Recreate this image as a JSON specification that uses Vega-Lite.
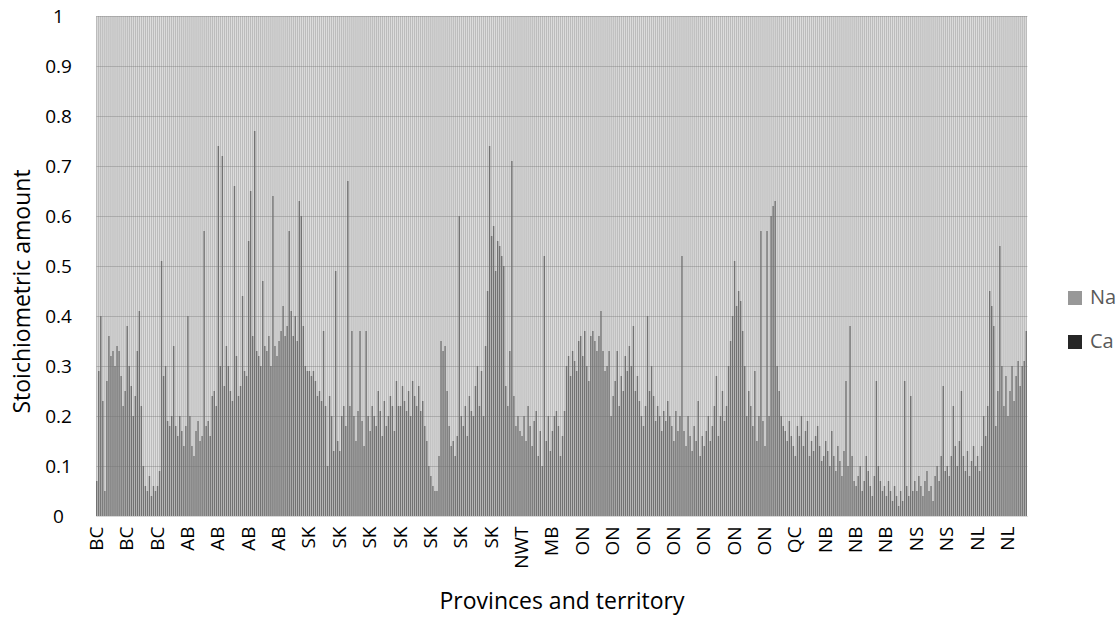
{
"$schema": "https://vega.github.io/schema/vega-lite/v6.json",
"width": 931, "height": 500,
"autosize": "none",
"padding": {"left": 96, "top": 16, "right": 92, "bottom": 104},
"background": "white",
"config": {"view": {"stroke": null}, "font": "Open Sans"},
"data": {"values": [
{"i":1,"p":"BC","Ca":0.07,"Na":0.93},{"i":2,"p":"BC","Ca":0.29,"Na":0.71},{"i":3,"p":"BC","Ca":0.40,"Na":0.60},{"i":4,"p":"BC","Ca":0.23,"Na":0.77},{"i":5,"p":"BC","Ca":0.05,"Na":0.95},{"i":6,"p":"BC","Ca":0.27,"Na":0.73},{"i":7,"p":"BC","Ca":0.36,"Na":0.64},{"i":8,"p":"BC","Ca":0.32,"Na":0.68},{"i":9,"p":"BC","Ca":0.33,"Na":0.67},{"i":10,"p":"BC","Ca":0.30,"Na":0.70},{"i":11,"p":"BC","Ca":0.34,"Na":0.66},{"i":12,"p":"BC","Ca":0.33,"Na":0.67},{"i":13,"p":"BC","Ca":0.28,"Na":0.72},{"i":14,"p":"BC","Ca":0.22,"Na":0.78},{"i":15,"p":"BC","Ca":0.25,"Na":0.75},
{"i":16,"p":"BC","Ca":0.38,"Na":0.62},{"i":17,"p":"BC","Ca":0.30,"Na":0.70},{"i":18,"p":"BC","Ca":0.26,"Na":0.74},{"i":19,"p":"BC","Ca":0.20,"Na":0.80},{"i":20,"p":"BC","Ca":0.24,"Na":0.76},{"i":21,"p":"BC","Ca":0.33,"Na":0.67},{"i":22,"p":"BC","Ca":0.41,"Na":0.59},{"i":23,"p":"BC","Ca":0.22,"Na":0.78},{"i":24,"p":"BC","Ca":0.10,"Na":0.90},{"i":25,"p":"BC","Ca":0.06,"Na":0.94},{"i":26,"p":"BC","Ca":0.05,"Na":0.95},{"i":27,"p":"BC","Ca":0.08,"Na":0.92},{"i":28,"p":"BC","Ca":0.04,"Na":0.96},{"i":29,"p":"BC","Ca":0.06,"Na":0.94},{"i":30,"p":"BC","Ca":0.05,"Na":0.95},
{"i":31,"p":"BC","Ca":0.06,"Na":0.94},{"i":32,"p":"BC","Ca":0.09,"Na":0.91},{"i":33,"p":"BC","Ca":0.51,"Na":0.49},{"i":34,"p":"BC","Ca":0.28,"Na":0.72},{"i":35,"p":"BC","Ca":0.30,"Na":0.70},{"i":36,"p":"BC","Ca":0.19,"Na":0.81},{"i":37,"p":"BC","Ca":0.18,"Na":0.82},{"i":38,"p":"BC","Ca":0.20,"Na":0.80},{"i":39,"p":"BC","Ca":0.34,"Na":0.66},{"i":40,"p":"BC","Ca":0.18,"Na":0.82},{"i":41,"p":"BC","Ca":0.16,"Na":0.84},{"i":42,"p":"BC","Ca":0.20,"Na":0.80},{"i":43,"p":"BC","Ca":0.17,"Na":0.83},{"i":44,"p":"BC","Ca":0.14,"Na":0.86},{"i":45,"p":"BC","Ca":0.18,"Na":0.82},
{"i":46,"p":"AB","Ca":0.40,"Na":0.60},{"i":47,"p":"AB","Ca":0.20,"Na":0.80},{"i":48,"p":"AB","Ca":0.14,"Na":0.86},{"i":49,"p":"AB","Ca":0.12,"Na":0.88},{"i":50,"p":"AB","Ca":0.17,"Na":0.83},{"i":51,"p":"AB","Ca":0.19,"Na":0.81},{"i":52,"p":"AB","Ca":0.15,"Na":0.85},{"i":53,"p":"AB","Ca":0.16,"Na":0.84},{"i":54,"p":"AB","Ca":0.57,"Na":0.43},{"i":55,"p":"AB","Ca":0.18,"Na":0.82},{"i":56,"p":"AB","Ca":0.19,"Na":0.81},{"i":57,"p":"AB","Ca":0.16,"Na":0.84},{"i":58,"p":"AB","Ca":0.24,"Na":0.76},{"i":59,"p":"AB","Ca":0.25,"Na":0.75},{"i":60,"p":"AB","Ca":0.22,"Na":0.78},
{"i":61,"p":"AB","Ca":0.74,"Na":0.26},{"i":62,"p":"AB","Ca":0.30,"Na":0.70},{"i":63,"p":"AB","Ca":0.72,"Na":0.28},{"i":64,"p":"AB","Ca":0.26,"Na":0.74},{"i":65,"p":"AB","Ca":0.34,"Na":0.66},{"i":66,"p":"AB","Ca":0.30,"Na":0.70},{"i":67,"p":"AB","Ca":0.25,"Na":0.75},{"i":68,"p":"AB","Ca":0.23,"Na":0.77},{"i":69,"p":"AB","Ca":0.66,"Na":0.34},{"i":70,"p":"AB","Ca":0.32,"Na":0.68},{"i":71,"p":"AB","Ca":0.24,"Na":0.76},{"i":72,"p":"AB","Ca":0.26,"Na":0.74},{"i":73,"p":"AB","Ca":0.44,"Na":0.56},{"i":74,"p":"AB","Ca":0.29,"Na":0.71},{"i":75,"p":"AB","Ca":0.28,"Na":0.72},
{"i":76,"p":"AB","Ca":0.55,"Na":0.45},{"i":77,"p":"AB","Ca":0.65,"Na":0.35},{"i":78,"p":"AB","Ca":0.36,"Na":0.64},{"i":79,"p":"AB","Ca":0.77,"Na":0.23},{"i":80,"p":"AB","Ca":0.33,"Na":0.67},{"i":81,"p":"AB","Ca":0.32,"Na":0.68},{"i":82,"p":"AB","Ca":0.30,"Na":0.70},{"i":83,"p":"AB","Ca":0.47,"Na":0.53},{"i":84,"p":"AB","Ca":0.34,"Na":0.66},{"i":85,"p":"AB","Ca":0.33,"Na":0.67},{"i":86,"p":"AB","Ca":0.36,"Na":0.64},{"i":87,"p":"AB","Ca":0.30,"Na":0.70},{"i":88,"p":"AB","Ca":0.64,"Na":0.36},{"i":89,"p":"AB","Ca":0.34,"Na":0.66},{"i":90,"p":"AB","Ca":0.32,"Na":0.68},
{"i":91,"p":"AB","Ca":0.35,"Na":0.65},{"i":92,"p":"AB","Ca":0.37,"Na":0.63},{"i":93,"p":"AB","Ca":0.42,"Na":0.58},{"i":94,"p":"AB","Ca":0.36,"Na":0.64},{"i":95,"p":"AB","Ca":0.38,"Na":0.62},{"i":96,"p":"AB","Ca":0.57,"Na":0.43},{"i":97,"p":"AB","Ca":0.41,"Na":0.59},{"i":98,"p":"AB","Ca":0.36,"Na":0.64},{"i":99,"p":"AB","Ca":0.40,"Na":0.60},{"i":100,"p":"AB","Ca":0.35,"Na":0.65},{"i":101,"p":"AB","Ca":0.63,"Na":0.37},{"i":102,"p":"AB","Ca":0.60,"Na":0.40},{"i":103,"p":"AB","Ca":0.38,"Na":0.62},{"i":104,"p":"AB","Ca":0.30,"Na":0.70},{"i":105,"p":"AB","Ca":0.29,"Na":0.71},
{"i":106,"p":"SK","Ca":0.29,"Na":0.71},{"i":107,"p":"SK","Ca":0.28,"Na":0.72},{"i":108,"p":"SK","Ca":0.29,"Na":0.71},{"i":109,"p":"SK","Ca":0.27,"Na":0.73},{"i":110,"p":"SK","Ca":0.24,"Na":0.76},{"i":111,"p":"SK","Ca":0.25,"Na":0.75},{"i":112,"p":"SK","Ca":0.23,"Na":0.77},{"i":113,"p":"SK","Ca":0.37,"Na":0.63},{"i":114,"p":"SK","Ca":0.22,"Na":0.78},{"i":115,"p":"SK","Ca":0.10,"Na":0.90},{"i":116,"p":"SK","Ca":0.24,"Na":0.76},{"i":117,"p":"SK","Ca":0.20,"Na":0.80},{"i":118,"p":"SK","Ca":0.13,"Na":0.87},{"i":119,"p":"SK","Ca":0.49,"Na":0.51},{"i":120,"p":"SK","Ca":0.15,"Na":0.85},
{"i":121,"p":"SK","Ca":0.13,"Na":0.87},{"i":122,"p":"SK","Ca":0.20,"Na":0.80},{"i":123,"p":"SK","Ca":0.22,"Na":0.78},{"i":124,"p":"SK","Ca":0.18,"Na":0.82},{"i":125,"p":"SK","Ca":0.67,"Na":0.33},{"i":126,"p":"SK","Ca":0.22,"Na":0.78},{"i":127,"p":"SK","Ca":0.37,"Na":0.63},{"i":128,"p":"SK","Ca":0.20,"Na":0.80},{"i":129,"p":"SK","Ca":0.15,"Na":0.85},{"i":130,"p":"SK","Ca":0.21,"Na":0.79},{"i":131,"p":"SK","Ca":0.37,"Na":0.63},{"i":132,"p":"SK","Ca":0.19,"Na":0.81},{"i":133,"p":"SK","Ca":0.14,"Na":0.86},{"i":134,"p":"SK","Ca":0.37,"Na":0.63},{"i":135,"p":"SK","Ca":0.20,"Na":0.80},
{"i":136,"p":"SK","Ca":0.17,"Na":0.83},{"i":137,"p":"SK","Ca":0.22,"Na":0.78},{"i":138,"p":"SK","Ca":0.20,"Na":0.80},{"i":139,"p":"SK","Ca":0.18,"Na":0.82},{"i":140,"p":"SK","Ca":0.25,"Na":0.75},{"i":141,"p":"SK","Ca":0.21,"Na":0.79},{"i":142,"p":"SK","Ca":0.16,"Na":0.84},{"i":143,"p":"SK","Ca":0.23,"Na":0.77},{"i":144,"p":"SK","Ca":0.18,"Na":0.82},{"i":145,"p":"SK","Ca":0.20,"Na":0.80},{"i":146,"p":"SK","Ca":0.24,"Na":0.76},{"i":147,"p":"SK","Ca":0.22,"Na":0.78},{"i":148,"p":"SK","Ca":0.17,"Na":0.83},{"i":149,"p":"SK","Ca":0.27,"Na":0.73},{"i":150,"p":"SK","Ca":0.22,"Na":0.78},
{"i":151,"p":"SK","Ca":0.22,"Na":0.78},{"i":152,"p":"SK","Ca":0.26,"Na":0.74},{"i":153,"p":"SK","Ca":0.23,"Na":0.77},{"i":154,"p":"SK","Ca":0.21,"Na":0.79},{"i":155,"p":"SK","Ca":0.25,"Na":0.75},{"i":156,"p":"SK","Ca":0.20,"Na":0.80},{"i":157,"p":"SK","Ca":0.27,"Na":0.73},{"i":158,"p":"SK","Ca":0.24,"Na":0.76},{"i":159,"p":"SK","Ca":0.22,"Na":0.78},{"i":160,"p":"SK","Ca":0.26,"Na":0.74},{"i":161,"p":"SK","Ca":0.21,"Na":0.79},{"i":162,"p":"SK","Ca":0.23,"Na":0.77},{"i":163,"p":"SK","Ca":0.18,"Na":0.82},{"i":164,"p":"SK","Ca":0.15,"Na":0.85},{"i":165,"p":"SK","Ca":0.10,"Na":0.90},
{"i":166,"p":"SK","Ca":0.08,"Na":0.92},{"i":167,"p":"SK","Ca":0.06,"Na":0.94},{"i":168,"p":"SK","Ca":0.05,"Na":0.95},{"i":169,"p":"SK","Ca":0.05,"Na":0.95},{"i":170,"p":"SK","Ca":0.12,"Na":0.88},{"i":171,"p":"SK","Ca":0.35,"Na":0.65},{"i":172,"p":"SK","Ca":0.33,"Na":0.67},{"i":173,"p":"SK","Ca":0.34,"Na":0.66},{"i":174,"p":"SK","Ca":0.25,"Na":0.75},{"i":175,"p":"SK","Ca":0.18,"Na":0.82},{"i":176,"p":"SK","Ca":0.14,"Na":0.86},{"i":177,"p":"SK","Ca":0.15,"Na":0.85},{"i":178,"p":"SK","Ca":0.12,"Na":0.88},{"i":179,"p":"SK","Ca":0.16,"Na":0.84},{"i":180,"p":"SK","Ca":0.60,"Na":0.40},
{"i":181,"p":"SK","Ca":0.20,"Na":0.80},{"i":182,"p":"SK","Ca":0.18,"Na":0.82},{"i":183,"p":"SK","Ca":0.22,"Na":0.78},{"i":184,"p":"SK","Ca":0.16,"Na":0.84},{"i":185,"p":"SK","Ca":0.24,"Na":0.76},{"i":186,"p":"SK","Ca":0.21,"Na":0.79},{"i":187,"p":"SK","Ca":0.20,"Na":0.80},{"i":188,"p":"SK","Ca":0.26,"Na":0.74},{"i":189,"p":"SK","Ca":0.30,"Na":0.70},{"i":190,"p":"SK","Ca":0.22,"Na":0.78},{"i":191,"p":"SK","Ca":0.29,"Na":0.71},{"i":192,"p":"SK","Ca":0.20,"Na":0.80},{"i":193,"p":"SK","Ca":0.34,"Na":0.66},{"i":194,"p":"SK","Ca":0.45,"Na":0.55},{"i":195,"p":"SK","Ca":0.74,"Na":0.26},
{"i":196,"p":"SK","Ca":0.56,"Na":0.44},{"i":197,"p":"SK","Ca":0.58,"Na":0.42},{"i":198,"p":"SK","Ca":0.49,"Na":0.51},{"i":199,"p":"SK","Ca":0.55,"Na":0.45},{"i":200,"p":"SK","Ca":0.54,"Na":0.46},{"i":201,"p":"SK","Ca":0.52,"Na":0.48},{"i":202,"p":"SK","Ca":0.50,"Na":0.50},{"i":203,"p":"SK","Ca":0.26,"Na":0.74},{"i":204,"p":"SK","Ca":0.22,"Na":0.78},{"i":205,"p":"SK","Ca":0.33,"Na":0.67},{"i":206,"p":"SK","Ca":0.71,"Na":0.29},{"i":207,"p":"SK","Ca":0.24,"Na":0.76},{"i":208,"p":"SK","Ca":0.18,"Na":0.82},{"i":209,"p":"SK","Ca":0.20,"Na":0.80},{"i":210,"p":"SK","Ca":0.17,"Na":0.83},
{"i":211,"p":"NWT","Ca":0.16,"Na":0.84},{"i":212,"p":"NWT","Ca":0.20,"Na":0.80},{"i":213,"p":"NWT","Ca":0.15,"Na":0.85},{"i":214,"p":"NWT","Ca":0.22,"Na":0.78},{"i":215,"p":"NWT","Ca":0.18,"Na":0.82},{"i":216,"p":"NWT","Ca":0.14,"Na":0.86},{"i":217,"p":"NWT","Ca":0.19,"Na":0.81},{"i":218,"p":"NWT","Ca":0.21,"Na":0.79},{"i":219,"p":"NWT","Ca":0.12,"Na":0.88},{"i":220,"p":"NWT","Ca":0.17,"Na":0.83},{"i":221,"p":"NWT","Ca":0.10,"Na":0.90},{"i":222,"p":"NWT","Ca":0.52,"Na":0.48},{"i":223,"p":"NWT","Ca":0.15,"Na":0.85},{"i":224,"p":"NWT","Ca":0.20,"Na":0.80},{"i":225,"p":"NWT","Ca":0.13,"Na":0.87},
{"i":226,"p":"MB","Ca":0.17,"Na":0.83},{"i":227,"p":"MB","Ca":0.20,"Na":0.80},{"i":228,"p":"MB","Ca":0.21,"Na":0.79},{"i":229,"p":"MB","Ca":0.18,"Na":0.82},{"i":230,"p":"MB","Ca":0.12,"Na":0.88},{"i":231,"p":"MB","Ca":0.16,"Na":0.84},{"i":232,"p":"MB","Ca":0.21,"Na":0.79},{"i":233,"p":"MB","Ca":0.30,"Na":0.70},{"i":234,"p":"MB","Ca":0.32,"Na":0.68},{"i":235,"p":"MB","Ca":0.28,"Na":0.72},{"i":236,"p":"MB","Ca":0.33,"Na":0.67},{"i":237,"p":"MB","Ca":0.31,"Na":0.69},{"i":238,"p":"MB","Ca":0.29,"Na":0.71},{"i":239,"p":"MB","Ca":0.35,"Na":0.65},{"i":240,"p":"MB","Ca":0.36,"Na":0.64},
{"i":241,"p":"ON","Ca":0.32,"Na":0.68},{"i":242,"p":"ON","Ca":0.37,"Na":0.63},{"i":243,"p":"ON","Ca":0.30,"Na":0.70},{"i":244,"p":"ON","Ca":0.27,"Na":0.73},{"i":245,"p":"ON","Ca":0.36,"Na":0.64},{"i":246,"p":"ON","Ca":0.37,"Na":0.63},{"i":247,"p":"ON","Ca":0.35,"Na":0.65},{"i":248,"p":"ON","Ca":0.33,"Na":0.67},{"i":249,"p":"ON","Ca":0.36,"Na":0.64},{"i":250,"p":"ON","Ca":0.41,"Na":0.59},{"i":251,"p":"ON","Ca":0.33,"Na":0.67},{"i":252,"p":"ON","Ca":0.29,"Na":0.71},{"i":253,"p":"ON","Ca":0.30,"Na":0.70},{"i":254,"p":"ON","Ca":0.33,"Na":0.67},{"i":255,"p":"ON","Ca":0.20,"Na":0.80},
{"i":256,"p":"ON","Ca":0.24,"Na":0.76},{"i":257,"p":"ON","Ca":0.27,"Na":0.73},{"i":258,"p":"ON","Ca":0.33,"Na":0.67},{"i":259,"p":"ON","Ca":0.22,"Na":0.78},{"i":260,"p":"ON","Ca":0.28,"Na":0.72},{"i":261,"p":"ON","Ca":0.25,"Na":0.75},{"i":262,"p":"ON","Ca":0.32,"Na":0.68},{"i":263,"p":"ON","Ca":0.29,"Na":0.71},{"i":264,"p":"ON","Ca":0.34,"Na":0.66},{"i":265,"p":"ON","Ca":0.30,"Na":0.70},{"i":266,"p":"ON","Ca":0.38,"Na":0.62},{"i":267,"p":"ON","Ca":0.25,"Na":0.75},{"i":268,"p":"ON","Ca":0.28,"Na":0.72},{"i":269,"p":"ON","Ca":0.23,"Na":0.77},{"i":270,"p":"ON","Ca":0.20,"Na":0.80},
{"i":271,"p":"ON","Ca":0.18,"Na":0.82},{"i":272,"p":"ON","Ca":0.22,"Na":0.78},{"i":273,"p":"ON","Ca":0.40,"Na":0.60},{"i":274,"p":"ON","Ca":0.25,"Na":0.75},{"i":275,"p":"ON","Ca":0.30,"Na":0.70},{"i":276,"p":"ON","Ca":0.24,"Na":0.76},{"i":277,"p":"ON","Ca":0.19,"Na":0.81},{"i":278,"p":"ON","Ca":0.22,"Na":0.78},{"i":279,"p":"ON","Ca":0.20,"Na":0.80},{"i":280,"p":"ON","Ca":0.17,"Na":0.83},{"i":281,"p":"ON","Ca":0.21,"Na":0.79},{"i":282,"p":"ON","Ca":0.19,"Na":0.81},{"i":283,"p":"ON","Ca":0.23,"Na":0.77},{"i":284,"p":"ON","Ca":0.20,"Na":0.80},{"i":285,"p":"ON","Ca":0.18,"Na":0.82},
{"i":286,"p":"ON","Ca":0.15,"Na":0.85},{"i":287,"p":"ON","Ca":0.21,"Na":0.79},{"i":288,"p":"ON","Ca":0.17,"Na":0.83},{"i":289,"p":"ON","Ca":0.20,"Na":0.80},{"i":290,"p":"ON","Ca":0.52,"Na":0.48},{"i":291,"p":"ON","Ca":0.17,"Na":0.83},{"i":292,"p":"ON","Ca":0.14,"Na":0.86},{"i":293,"p":"ON","Ca":0.20,"Na":0.80},{"i":294,"p":"ON","Ca":0.16,"Na":0.84},{"i":295,"p":"ON","Ca":0.13,"Na":0.87},{"i":296,"p":"ON","Ca":0.18,"Na":0.82},{"i":297,"p":"ON","Ca":0.15,"Na":0.85},{"i":298,"p":"ON","Ca":0.23,"Na":0.77},{"i":299,"p":"ON","Ca":0.12,"Na":0.88},{"i":300,"p":"ON","Ca":0.16,"Na":0.84},
{"i":301,"p":"ON","Ca":0.14,"Na":0.86},{"i":302,"p":"ON","Ca":0.17,"Na":0.83},{"i":303,"p":"ON","Ca":0.20,"Na":0.80},{"i":304,"p":"ON","Ca":0.15,"Na":0.85},{"i":305,"p":"ON","Ca":0.18,"Na":0.82},{"i":306,"p":"ON","Ca":0.22,"Na":0.78},{"i":307,"p":"ON","Ca":0.28,"Na":0.72},{"i":308,"p":"ON","Ca":0.16,"Na":0.84},{"i":309,"p":"ON","Ca":0.20,"Na":0.80},{"i":310,"p":"ON","Ca":0.25,"Na":0.75},{"i":311,"p":"ON","Ca":0.19,"Na":0.81},{"i":312,"p":"ON","Ca":0.22,"Na":0.78},{"i":313,"p":"ON","Ca":0.30,"Na":0.70},{"i":314,"p":"ON","Ca":0.35,"Na":0.65},{"i":315,"p":"ON","Ca":0.40,"Na":0.60},
{"i":316,"p":"ON","Ca":0.51,"Na":0.49},{"i":317,"p":"ON","Ca":0.42,"Na":0.58},{"i":318,"p":"ON","Ca":0.45,"Na":0.55},{"i":319,"p":"ON","Ca":0.43,"Na":0.57},{"i":320,"p":"ON","Ca":0.37,"Na":0.63},{"i":321,"p":"ON","Ca":0.30,"Na":0.70},{"i":322,"p":"ON","Ca":0.20,"Na":0.80},{"i":323,"p":"ON","Ca":0.25,"Na":0.75},{"i":324,"p":"ON","Ca":0.22,"Na":0.78},{"i":325,"p":"ON","Ca":0.18,"Na":0.82},{"i":326,"p":"ON","Ca":0.29,"Na":0.71},{"i":327,"p":"ON","Ca":0.15,"Na":0.85},{"i":328,"p":"ON","Ca":0.20,"Na":0.80},{"i":329,"p":"ON","Ca":0.57,"Na":0.43},{"i":330,"p":"ON","Ca":0.19,"Na":0.81},
{"i":331,"p":"ON","Ca":0.14,"Na":0.86},{"i":332,"p":"ON","Ca":0.57,"Na":0.43},{"i":333,"p":"ON","Ca":0.20,"Na":0.80},{"i":334,"p":"ON","Ca":0.60,"Na":0.40},{"i":335,"p":"ON","Ca":0.62,"Na":0.38},{"i":336,"p":"ON","Ca":0.63,"Na":0.37},{"i":337,"p":"ON","Ca":0.30,"Na":0.70},{"i":338,"p":"ON","Ca":0.25,"Na":0.75},{"i":339,"p":"ON","Ca":0.20,"Na":0.80},{"i":340,"p":"ON","Ca":0.18,"Na":0.82},{"i":341,"p":"ON","Ca":0.17,"Na":0.83},{"i":342,"p":"ON","Ca":0.15,"Na":0.85},{"i":343,"p":"ON","Ca":0.19,"Na":0.81},{"i":344,"p":"ON","Ca":0.16,"Na":0.84},{"i":345,"p":"ON","Ca":0.14,"Na":0.86},
{"i":346,"p":"QC","Ca":0.12,"Na":0.88},{"i":347,"p":"QC","Ca":0.18,"Na":0.82},{"i":348,"p":"QC","Ca":0.16,"Na":0.84},{"i":349,"p":"QC","Ca":0.20,"Na":0.80},{"i":350,"p":"QC","Ca":0.14,"Na":0.86},{"i":351,"p":"QC","Ca":0.17,"Na":0.83},{"i":352,"p":"QC","Ca":0.19,"Na":0.81},{"i":353,"p":"QC","Ca":0.12,"Na":0.88},{"i":354,"p":"QC","Ca":0.15,"Na":0.85},{"i":355,"p":"QC","Ca":0.13,"Na":0.87},{"i":356,"p":"QC","Ca":0.16,"Na":0.84},{"i":357,"p":"QC","Ca":0.18,"Na":0.82},{"i":358,"p":"QC","Ca":0.14,"Na":0.86},{"i":359,"p":"QC","Ca":0.11,"Na":0.89},{"i":360,"p":"QC","Ca":0.12,"Na":0.88},
{"i":361,"p":"NB","Ca":0.15,"Na":0.85},{"i":362,"p":"NB","Ca":0.13,"Na":0.87},{"i":363,"p":"NB","Ca":0.10,"Na":0.90},{"i":364,"p":"NB","Ca":0.17,"Na":0.83},{"i":365,"p":"NB","Ca":0.12,"Na":0.88},{"i":366,"p":"NB","Ca":0.09,"Na":0.91},{"i":367,"p":"NB","Ca":0.14,"Na":0.86},{"i":368,"p":"NB","Ca":0.11,"Na":0.89},{"i":369,"p":"NB","Ca":0.08,"Na":0.92},{"i":370,"p":"NB","Ca":0.13,"Na":0.87},{"i":371,"p":"NB","Ca":0.27,"Na":0.73},{"i":372,"p":"NB","Ca":0.10,"Na":0.90},{"i":373,"p":"NB","Ca":0.38,"Na":0.62},{"i":374,"p":"NB","Ca":0.12,"Na":0.88},{"i":375,"p":"NB","Ca":0.07,"Na":0.93},
{"i":376,"p":"NB","Ca":0.06,"Na":0.94},{"i":377,"p":"NB","Ca":0.08,"Na":0.92},{"i":378,"p":"NB","Ca":0.10,"Na":0.90},{"i":379,"p":"NB","Ca":0.05,"Na":0.95},{"i":380,"p":"NB","Ca":0.07,"Na":0.93},{"i":381,"p":"NB","Ca":0.12,"Na":0.88},{"i":382,"p":"NB","Ca":0.09,"Na":0.91},{"i":383,"p":"NB","Ca":0.06,"Na":0.94},{"i":384,"p":"NB","Ca":0.04,"Na":0.96},{"i":385,"p":"NB","Ca":0.08,"Na":0.92},{"i":386,"p":"NB","Ca":0.27,"Na":0.73},{"i":387,"p":"NB","Ca":0.10,"Na":0.90},{"i":388,"p":"NB","Ca":0.07,"Na":0.93},{"i":389,"p":"NB","Ca":0.05,"Na":0.95},{"i":390,"p":"NB","Ca":0.06,"Na":0.94},
{"i":391,"p":"NB","Ca":0.04,"Na":0.96},{"i":392,"p":"NB","Ca":0.07,"Na":0.93},{"i":393,"p":"NB","Ca":0.05,"Na":0.95},{"i":394,"p":"NB","Ca":0.03,"Na":0.97},{"i":395,"p":"NB","Ca":0.06,"Na":0.94},{"i":396,"p":"NB","Ca":0.04,"Na":0.96},{"i":397,"p":"NB","Ca":0.02,"Na":0.98},{"i":398,"p":"NB","Ca":0.05,"Na":0.95},{"i":399,"p":"NB","Ca":0.03,"Na":0.97},{"i":400,"p":"NB","Ca":0.27,"Na":0.73},{"i":401,"p":"NB","Ca":0.06,"Na":0.94},{"i":402,"p":"NB","Ca":0.04,"Na":0.96},{"i":403,"p":"NB","Ca":0.24,"Na":0.76},{"i":404,"p":"NB","Ca":0.05,"Na":0.95},{"i":405,"p":"NB","Ca":0.07,"Na":0.93},
{"i":406,"p":"NS","Ca":0.05,"Na":0.95},{"i":407,"p":"NS","Ca":0.08,"Na":0.92},{"i":408,"p":"NS","Ca":0.06,"Na":0.94},{"i":409,"p":"NS","Ca":0.04,"Na":0.96},{"i":410,"p":"NS","Ca":0.07,"Na":0.93},{"i":411,"p":"NS","Ca":0.09,"Na":0.91},{"i":412,"p":"NS","Ca":0.05,"Na":0.95},{"i":413,"p":"NS","Ca":0.06,"Na":0.94},{"i":414,"p":"NS","Ca":0.03,"Na":0.97},{"i":415,"p":"NS","Ca":0.08,"Na":0.92},{"i":416,"p":"NS","Ca":0.10,"Na":0.90},{"i":417,"p":"NS","Ca":0.07,"Na":0.93},{"i":418,"p":"NS","Ca":0.12,"Na":0.88},{"i":419,"p":"NS","Ca":0.26,"Na":0.74},{"i":420,"p":"NS","Ca":0.09,"Na":0.91},
{"i":421,"p":"NS","Ca":0.10,"Na":0.90},{"i":422,"p":"NS","Ca":0.08,"Na":0.92},{"i":423,"p":"NS","Ca":0.12,"Na":0.88},{"i":424,"p":"NS","Ca":0.22,"Na":0.78},{"i":425,"p":"NS","Ca":0.14,"Na":0.86},{"i":426,"p":"NS","Ca":0.10,"Na":0.90},{"i":427,"p":"NS","Ca":0.15,"Na":0.85},{"i":428,"p":"NS","Ca":0.25,"Na":0.75},{"i":429,"p":"NS","Ca":0.12,"Na":0.88},{"i":430,"p":"NS","Ca":0.09,"Na":0.91},{"i":431,"p":"NS","Ca":0.13,"Na":0.87},{"i":432,"p":"NS","Ca":0.08,"Na":0.92},{"i":433,"p":"NS","Ca":0.11,"Na":0.89},{"i":434,"p":"NS","Ca":0.14,"Na":0.86},{"i":435,"p":"NS","Ca":0.10,"Na":0.90},
{"i":436,"p":"NL","Ca":0.12,"Na":0.88},{"i":437,"p":"NL","Ca":0.09,"Na":0.91},{"i":438,"p":"NL","Ca":0.14,"Na":0.86},{"i":439,"p":"NL","Ca":0.20,"Na":0.80},{"i":440,"p":"NL","Ca":0.16,"Na":0.84},{"i":441,"p":"NL","Ca":0.22,"Na":0.78},{"i":442,"p":"NL","Ca":0.45,"Na":0.55},{"i":443,"p":"NL","Ca":0.42,"Na":0.58},{"i":444,"p":"NL","Ca":0.38,"Na":0.62},{"i":445,"p":"NL","Ca":0.18,"Na":0.82},{"i":446,"p":"NL","Ca":0.25,"Na":0.75},{"i":447,"p":"NL","Ca":0.54,"Na":0.46},{"i":448,"p":"NL","Ca":0.30,"Na":0.70},{"i":449,"p":"NL","Ca":0.22,"Na":0.78},{"i":450,"p":"NL","Ca":0.28,"Na":0.72},
{"i":451,"p":"NL","Ca":0.20,"Na":0.80},{"i":452,"p":"NL","Ca":0.25,"Na":0.75},{"i":453,"p":"NL","Ca":0.30,"Na":0.70},{"i":454,"p":"NL","Ca":0.23,"Na":0.77},{"i":455,"p":"NL","Ca":0.28,"Na":0.72},{"i":456,"p":"NL","Ca":0.31,"Na":0.69},{"i":457,"p":"NL","Ca":0.26,"Na":0.74},{"i":458,"p":"NL","Ca":0.30,"Na":0.70},{"i":459,"p":"NL","Ca":0.31,"Na":0.69},{"i":460,"p":"NL","Ca":0.37,"Na":0.63}
]},
"transform": [{"fold": ["Na", "Ca"], "as": ["el", "v"]}],
"mark": {"type": "bar", "opacity": 0.65},
"encoding": {
  "x": {"field": "i", "type": "ordinal", "scale": {"paddingInner": 0.22, "paddingOuter": 0},
    "axis": {"title": "Provinces and territory",
      "values": [1,16,31,46,61,76,91,106,121,136,151,166,181,196,211,226,241,256,271,286,301,316,331,346,361,376,391,406,421,436,451],
      "labelExpr": "['BC','BC','BC','AB','AB','AB','AB','SK','SK','SK','SK','SK','SK','SK','NWT','MB','ON','ON','ON','ON','ON','ON','ON','QC','NB','NB','NB','NS','NS','NL','NL'][floor((datum.value-1)/15)]",
      "labelAngle": 270, "labelAlign": "right", "labelBaseline": "middle", "labelOverlap": false, "labelBound": false, "labelFlush": false,
      "ticks": false, "tickSize": 0, "labelPadding": 10, "labelFontSize": 19, "labelColor": "#000000",
      "domainColor": "#d9d9d9", "domainWidth": 1, "grid": false, "zindex": 1,
      "titleFontSize": 23, "titleFontWeight": "normal", "titleColor": "#000000", "titleY": 74, "titleBaseline": "top"}},
  "y": {"field": "v", "type": "quantitative", "stack": "zero", "scale": {"domain": [0, 1]},
    "axis": {"title": "Stoichiometric amount", "values": [0,0.1,0.2,0.3,0.4,0.5,0.6,0.7,0.8,0.9,1], "format": "~g",
      "domain": false, "ticks": false, "tickSize": 0, "labelAlign": "center", "labelPadding": 38, "labelFontSize": 19, "labelColor": "#000000",
      "grid": true, "gridColor": "#707070", "gridOpacity": 0.35, "zindex": 1,
      "titleFontSize": 23, "titleFontWeight": "normal", "titleColor": "#000000", "titleX": -62, "titleY": 275}},
  "color": {"field": "el", "type": "nominal", "scale": {"domain": ["Na", "Ca"], "range": ["#989898", "#262626"]},
    "legend": {"orient": "none", "legendX": 969, "legendY": 272, "title": null, "symbolType": "square", "symbolSize": 196,
      "symbolOpacity": 1, "symbolStrokeWidth": 0,
      "labelFontSize": 20, "labelColor": "#595959", "rowPadding": 24, "labelOffset": 5}},
  "order": {"field": "el", "sort": "ascending"}
}
}
